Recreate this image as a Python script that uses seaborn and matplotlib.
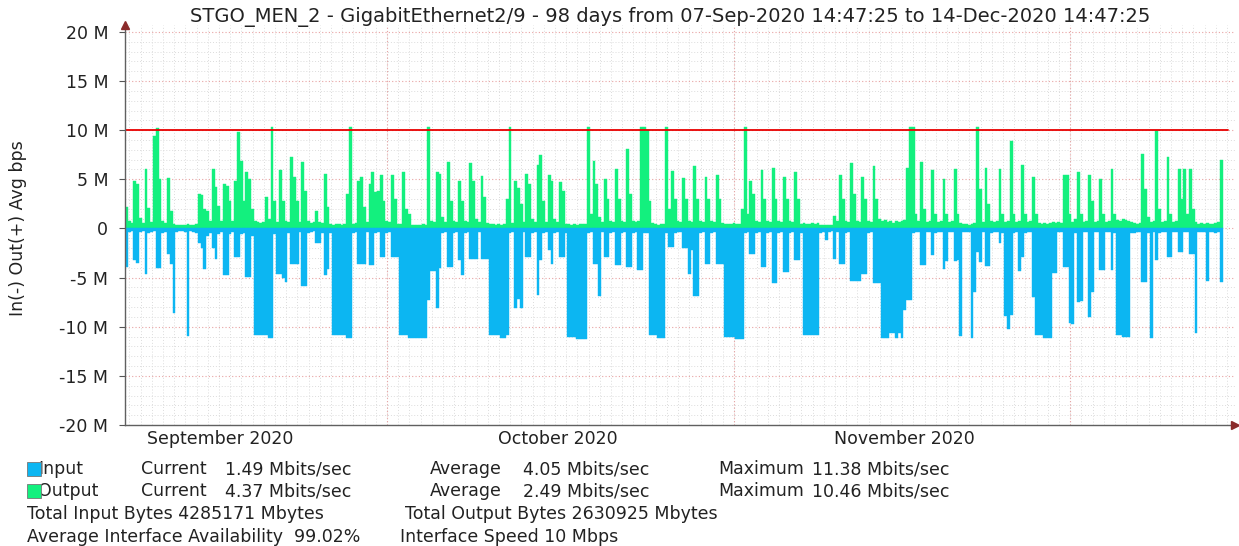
import numpy as np
import pandas as pd
import matplotlib
matplotlib.use('Agg')
import matplotlib.pyplot as plt
from matplotlib.patches import Rectangle
import seaborn as sns

# Output (green, Mbit/s), one row per day, four 6-hour samples per row.
out_sep = [
    [2.2, 0.8, 0.6, 4.8], [4.5, 1.1, 0.6, 6.0], [2.1, 0.7, 9.4, 10.2], [5.0, 0.8, 0.6, 5.1],
    [1.8, 0.5, 0.4, 0.3], [0.4, 0.3, 0.5, 0.4], [0.4, 0.5, 3.5, 3.4], [2.0, 1.8, 0.8, 6.0],
    [4.2, 2.3, 0.8, 4.5], [4.3, 2.8, 0.8, 4.8], [9.8, 6.9, 2.8, 5.7], [5.0, 2.0, 0.8, 0.7],
    [0.6, 0.7, 3.2, 1.0], [10.3, 2.8, 0.7, 5.9], [2.8, 0.8, 0.7, 7.3], [5.2, 2.8, 0.7, 6.8],
    [3.8, 0.8, 0.6, 0.7], [1.8, 0.7, 0.6, 5.5], [2.2, 0.5, 0.4, 0.5], [0.5, 0.4, 0.5, 3.5],
    [10.3, 0.5, 0.6, 4.8], [5.2, 2.2, 0.7, 4.5], [5.7, 3.7, 3.8, 5.4], [2.8, 0.8, 0.7, 5.4],
]
out_oct = [
    [3.0, 0.5, 0.5, 5.7], [2.0, 1.5, 0.4, 0.4], [0.4, 0.4, 0.5, 0.4], [10.3, 0.8, 0.7, 5.7],
    [5.5, 1.2, 0.7, 6.8], [2.8, 0.8, 0.7, 4.8], [2.8, 0.8, 0.7, 6.7], [4.8, 1.0, 0.7, 5.3],
    [3.2, 0.6, 0.5, 0.5], [0.4, 0.5, 0.4, 0.5], [3.0, 10.3, 0.6, 4.8], [4.1, 2.5, 0.7, 5.5],
    [4.5, 1.0, 0.7, 6.5], [7.5, 2.8, 0.7, 5.4], [4.8, 1.0, 0.7, 4.7], [3.8, 0.5, 0.5, 0.4],
    [0.5, 0.4, 0.5, 0.5], [0.5, 10.3, 1.5, 6.9], [4.5, 1.2, 0.7, 5.0], [3.0, 0.8, 0.7, 6.0],
    [3.0, 0.8, 0.7, 8.1], [3.5, 0.8, 0.7, 0.8], [10.3, 10.3, 10.0, 2.8], [0.6, 0.5, 0.4, 0.5],
    [0.5, 10.3, 2.0, 5.8], [3.0, 0.8, 0.7, 5.1], [3.0, 0.8, 0.7, 6.4], [3.0, 0.8, 0.7, 5.2],
    [3.0, 0.8, 0.7, 5.4], [3.0, 0.6, 0.5, 0.5], [0.5, 0.6, 0.5, 0.5],
]
out_nov = [
    [2.0, 10.3, 1.5, 4.8], [3.5, 0.8, 0.7, 5.9], [3.0, 0.8, 0.7, 6.2], [3.0, 0.8, 0.7, 5.2],
    [3.0, 0.8, 0.7, 5.7], [3.0, 0.5, 0.6, 0.5], [0.5, 0.6, 0.5, 0.6], [0.4, 0.3, 0.3, 0.3],
    [0.3, 1.3, 0.8, 5.4], [3.0, 0.8, 0.7, 6.7], [3.5, 0.8, 0.7, 5.2], [3.0, 0.8, 0.7, 6.4],
    [3.0, 1.0, 0.8, 0.9], [0.7, 0.8, 0.6, 0.8], [0.7, 0.8, 0.9, 6.2], [10.3, 10.3, 1.5, 0.8],
    [6.8, 2.0, 0.7, 0.8], [5.9, 1.5, 0.7, 0.8], [5.0, 1.5, 0.7, 0.8], [6.0, 1.5, 0.6, 0.5],
    [0.5, 0.4, 0.5, 0.6], [10.3, 4.0, 0.7, 6.2], [2.5, 0.8, 0.7, 0.8], [6.0, 1.5, 0.7, 0.8],
    [8.9, 1.5, 0.7, 0.8], [6.5, 1.5, 0.7, 0.8], [5.2, 1.5, 0.6, 0.5], [0.6, 0.5, 0.6, 0.7],
    [0.6, 0.7, 0.6, 5.4], [5.4, 1.5, 0.7, 1.0],
]
out_dec = [
    [5.7, 1.5, 0.7, 0.8], [5.4, 2.8, 0.7, 0.8], [5.0, 1.5, 0.7, 0.8], [6.0, 1.5, 0.9, 0.8],
    [1.0, 0.9, 0.8, 0.7], [0.6, 0.5, 0.6, 7.6], [4.0, 1.2, 0.7, 0.8], [9.9, 2.0, 0.7, 0.8],
    [7.3, 1.5, 0.7, 0.8], [6.0, 3.0, 6.0, 1.5], [6.0, 2.0, 0.7, 0.5], [0.6, 0.5, 0.6, 0.5],
    [0.5, 0.6, 0.7, 7.0],
]

# Input (blue, Mbit/s, drawn below zero), same layout.
in_sep = [
    [3.9, 0.4, 0.3, 3.2], [3.5, 0.4, 0.3, 4.6], [0.5, 0.4, 0.3, 4.0], [4.0, 0.5, 0.4, 2.6],
    [3.6, 8.6, 0.4, 0.3], [0.3, 0.4, 10.9, 0.3], [0.4, 0.5, 1.5, 2.0], [4.1, 0.8, 0.5, 2.0],
    [3.1, 0.6, 0.4, 4.7], [4.7, 0.6, 0.4, 2.9], [2.9, 0.6, 0.5, 4.9], [4.9, 0.8, 10.8, 10.8],
    [10.8, 10.8, 10.8, 11.1], [11.1, 0.6, 4.6, 4.6], [5.0, 5.4, 0.5, 3.6], [3.6, 3.6, 0.4, 5.9],
    [5.9, 0.5, 0.4, 0.3], [1.5, 1.5, 0.5, 4.7], [4.1, 0.5, 10.8, 10.8], [10.8, 10.8, 10.8, 11.1],
    [11.1, 0.5, 0.4, 3.6], [3.6, 3.6, 0.4, 3.7], [3.7, 0.5, 0.4, 2.9], [2.9, 0.5, 0.4, 2.9],
]
in_oct = [
    [2.9, 2.9, 10.8, 10.8], [10.8, 11.1, 11.1, 11.1], [11.1, 11.1, 11.1, 11.1], [7.3, 4.3, 4.3, 8.1],
    [4.0, 0.5, 0.4, 3.9], [3.9, 0.5, 0.4, 3.2], [4.7, 0.5, 0.4, 3.1], [3.1, 3.1, 0.4, 3.1],
    [3.1, 3.1, 10.8, 10.8], [10.8, 10.8, 11.1, 11.1], [10.8, 0.5, 0.4, 8.1], [7.2, 8.1, 0.4, 2.9],
    [2.9, 0.5, 0.4, 6.8], [3.2, 0.5, 0.4, 2.2], [3.6, 0.5, 0.4, 2.9], [2.9, 0.5, 11.0, 11.0],
    [11.0, 11.3, 11.3, 11.3], [11.3, 0.5, 0.4, 3.6], [3.6, 6.9, 0.4, 2.9], [2.9, 0.5, 0.4, 3.7],
    [3.7, 0.5, 0.4, 3.9], [3.9, 0.5, 0.4, 4.2], [4.2, 0.5, 0.5, 10.8], [10.8, 10.8, 11.1, 11.1],
    [11.1, 0.5, 1.9, 1.9], [0.5, 0.4, 0.4, 2.0], [2.0, 4.6, 2.2, 6.9], [6.9, 0.5, 0.4, 3.6],
    [3.6, 0.5, 0.4, 3.6], [3.6, 3.6, 11.0, 11.0], [11.0, 11.0, 11.3, 11.3],
]
in_nov = [
    [11.3, 0.5, 0.4, 2.6], [2.6, 0.5, 0.4, 3.9], [3.9, 0.5, 0.4, 5.6], [5.6, 0.5, 0.4, 4.4],
    [4.4, 0.5, 0.4, 3.2], [3.2, 0.5, 10.8, 10.8], [10.8, 10.8, 10.8, 10.8], [0.5, 0.4, 1.2, 0.4],
    [0.3, 3.1, 0.4, 3.6], [3.6, 0.5, 0.4, 5.3], [5.3, 5.3, 5.3, 4.6], [4.6, 0.5, 0.4, 5.6],
    [5.6, 5.6, 11.1, 11.1], [11.1, 10.6, 10.6, 11.1], [10.6, 11.1, 8.3, 7.3], [7.3, 0.5, 0.4, 0.4],
    [3.7, 3.7, 0.4, 0.4], [2.7, 0.5, 0.4, 0.4], [4.1, 3.3, 0.4, 0.4], [3.3, 3.2, 10.9, 0.4],
    [0.4, 0.4, 11.1, 6.5], [2.4, 3.4, 0.4, 3.8], [3.8, 0.5, 0.4, 0.4], [1.5, 0.5, 8.9, 10.2],
    [8.8, 0.5, 0.4, 4.3], [2.9, 0.5, 0.4, 0.4], [7.0, 10.8, 10.8, 10.8], [11.1, 11.1, 11.1, 4.5],
    [4.5, 0.4, 0.4, 3.9], [3.9, 9.6, 9.7, 0.5],
]
in_dec = [
    [7.5, 7.4, 0.4, 0.4], [9.0, 6.5, 0.4, 0.4], [4.2, 4.2, 0.4, 0.4], [4.2, 0.5, 10.8, 10.8],
    [11.0, 11.0, 11.0, 0.5], [0.5, 0.4, 0.4, 5.4], [5.4, 0.5, 11.1, 0.4], [3.2, 0.5, 0.4, 0.4],
    [2.9, 2.9, 0.4, 0.4], [2.4, 2.4, 0.4, 0.4], [2.6, 2.6, 10.6, 0.4], [0.4, 0.4, 5.3, 0.4],
    [0.4, 0.5, 0.4, 5.5],
]

y_ticks = [-20, -15, -10, -5, 0, 5, 10, 15, 20]
y_labels = ['-20 M', '-15 M', '-10 M', '-5 M', '0', '5 M', '10 M', '15 M', '20 M']
months = ['September 2020', 'October 2020', 'November 2020']
month_pos = [8.5, 38.6, 69.6]          # days from start
month_starts = [23.384, 54.384, 84.384]

title = ('STGO_MEN_2 - GigabitEthernet2/9 - 98 days from '
         '07-Sep-2020 14:47:25 to 14-Dec-2020 14:47:25')

out_vals = np.concatenate([np.ravel(out_sep), np.ravel(out_oct), np.ravel(out_nov), np.ravel(out_dec)])
in_vals = np.concatenate([np.ravel(in_sep), np.ravel(in_oct), np.ravel(in_nov), np.ravel(in_dec)])
n = len(out_vals)
df = pd.DataFrame({'t': np.arange(n) * 0.25 + 0.125, 'out': out_vals, 'inp': -in_vals})

sns.set_style('white')
plt.rcParams['font.family'] = ['DejaVu Sans']
TXT = '#222222'
GREEN = '#13f07e'
BLUE = '#0cb6f2'
FS = 12.5

W, H = 1239, 546
fig = plt.figure(figsize=(W / 100, H / 100), dpi=100)
ax = fig.add_axes([125 / W, 1 - 425 / H, (1235 - 125) / W, (425 - 25) / H])

# grid
for d in np.arange(0.384, 98.5, 1.0):
    ax.axvline(d, color='#dcdcdc', lw=0.7, ls=(0, (1, 2)), zorder=0)
for d in month_starts:
    ax.axvline(d, color='#e8a3a3', lw=0.8, ls=(0, (1, 2)), zorder=0.5)
for v in range(-19, 21):
    if v % 5:
        ax.axhline(v, color='#dcdcdc', lw=0.7, ls=(0, (1, 2)), zorder=0)
    else:
        ax.axhline(v, color='#e8a3a3', lw=0.8, ls=(0, (1, 2)), zorder=0.5)

sns.histplot(data=df, x='t', weights='out', binwidth=0.25, binrange=(0, n * 0.25),
             color=GREEN, alpha=1, edgecolor=GREEN, linewidth=0.3, ax=ax, zorder=2)
sns.histplot(data=df, x='t', weights='inp', binwidth=0.25, binrange=(0, n * 0.25),
             color=BLUE, alpha=1, edgecolor=BLUE, linewidth=0.3, ax=ax, zorder=2)

ax.axhline(10, xmin=0, xmax=(1228 - 125) / (1235 - 125), color='#e80000', lw=1.3, zorder=3)

ax.set_xlim(0, 99.1)
ax.set_ylim(-20, 20.7)
ax.set_yticks(y_ticks)
ax.set_yticklabels(y_labels, fontsize=FS, color=TXT)
ax.set_xticks([])
ax.set_xlabel('')
ax.set_ylabel('')
ax.tick_params(axis='y', length=4, width=0.8, color='#555555', pad=8, left=True)
for s in ['top', 'right']:
    ax.spines[s].set_visible(False)
for s in ['left', 'bottom']:
    ax.spines[s].set_color('#606060')
    ax.spines[s].set_linewidth(1.0)
    ax.spines[s].set_zorder(4)
ax.plot([1], [0], marker='>', color='#8b2b2b', ms=6, transform=ax.transAxes, clip_on=False, zorder=5)
ax.plot([0], [1], marker='^', color='#8b2b2b', ms=6, transform=ax.transAxes, clip_on=False, zorder=5)

for lab, pos in zip(months, month_pos):
    ax.text(pos, -20.5, lab, ha='center', va='top', fontsize=FS, color=TXT, clip_on=False)


def ft(x, y, s, **kw):
    kw.setdefault('fontsize', FS)
    fig.text(x / W, 1 - y / H, s, color=TXT, va='center', **kw)


ft(670, 17, title, ha='center', fontsize=14)
fig.text(18 / W, 1 - 228 / H, 'In(-) Out(+) Avg bps', rotation=90, fontsize=FS,
         color=TXT, ha='center', va='center')

rows = [
    ('Input', BLUE, '1.49', '4.05', '11.38'),
    ('Output', GREEN, '4.37', '2.49', '10.46'),
]
for i, (name, col, cur, avg, mx) in enumerate(rows):
    y = 469 + 22 * i
    ft(38, y, name)
    fig.add_artist(Rectangle((27 / W, 1 - (y + 7) / H), 14 / W, 14 / H, transform=fig.transFigure,
                             facecolor=col, edgecolor='#777777', lw=0.6, zorder=10))
    ft(141, y, 'Current')
    ft(225, y, f'{cur} Mbits/sec')
    ft(430, y, 'Average')
    ft(523, y, f'{avg} Mbits/sec')
    ft(718, y, 'Maximum')
    ft(812, y, f'{mx} Mbits/sec')

ft(27, 514, 'Total Input Bytes 4285171 Mbytes')
ft(405, 514, 'Total Output Bytes 2630925 Mbytes')
ft(27, 537, 'Average Interface Availability  99.02%')
ft(400, 537, 'Interface Speed 10 Mbps')

fig.savefig('out.png', dpi=100)
